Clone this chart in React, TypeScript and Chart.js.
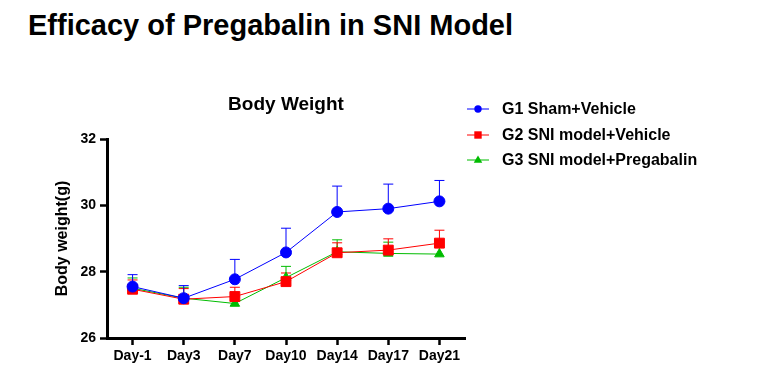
import React, { useEffect, useRef } from "react";
import { Chart, registerables } from "chart.js";

Chart.register(...registerables);

const FONT = 'Arial, "Liberation Sans", Helvetica, sans-serif';

const mainTitle = "Efficacy of Pregabalin in SNI Model";
const chartTitle = "Body Weight";
const yAxisTitle = "Body weight(g)";

const days = ["Day-1", "Day3", "Day7", "Day10", "Day14", "Day17", "Day21"];
const yTicks = [26, 28, 30, 32];

const seriesNames = ["G1 Sham+Vehicle", "G2 SNI model+Vehicle", "G3 SNI model+Pregabalin"];

const g1Mean = [27.55, 27.2, 27.77, 28.58, 29.8, 29.9, 30.12];
const g1Sem = [0.36, 0.38, 0.6, 0.73, 0.78, 0.74, 0.63];

const g2Mean = [27.47, 27.17, 27.25, 27.7, 28.57, 28.65, 28.86];
const g2Sem = [0.28, 0.32, 0.28, 0.26, 0.3, 0.34, 0.39];

const g3Mean = [27.5, 27.2, 27.04, 27.82, 28.6, 28.55, 28.53];
const g3Sem = [0.31, 0.33, 0.2, 0.34, 0.36, 0.34, 0.2];

const BLUE = "#0000FF";
const RED = "#FF0000";
const GREEN = "#00BC00";

const errorBarPlugin = {
  id: "errorBars",
  beforeDatasetsDraw(chart: any) {
    const ctx = chart.ctx;
    const yScale = chart.scales.y;
    const n = chart.data.datasets.length;
    for (let i = n - 1; i >= 0; i--) {
      const ds = chart.data.datasets[i];
      const meta = chart.getDatasetMeta(i);
      const errs: number[] = ds.errors;
      ctx.save();
      ctx.strokeStyle = ds.borderColor;
      ctx.lineWidth = 1;
      meta.data.forEach((pt: any, j: number) => {
        const x = pt.x;
        const y0 = pt.y;
        const y1 = yScale.getPixelForValue(ds.data[j] + errs[j]);
        ctx.beginPath();
        ctx.moveTo(x, y0);
        ctx.lineTo(x, y1);
        ctx.moveTo(x - 5, y1);
        ctx.lineTo(x + 5, y1);
        ctx.stroke();
      });
      ctx.restore();
    }
  },
};

function drawMarker(ctx: CanvasRenderingContext2D, style: string, x: number, y: number, r: number) {
  ctx.beginPath();
  if (style === "circle") {
    ctx.arc(x, y, r, 0, Math.PI * 2);
  } else if (style === "rect") {
    ctx.rect(x - r, y - r, 2 * r, 2 * r);
  } else {
    ctx.moveTo(x, y - r);
    ctx.lineTo(x + r * 0.95, y + r * 0.6);
    ctx.lineTo(x - r * 0.95, y + r * 0.6);
    ctx.closePath();
  }
  ctx.fill();
}

const decorPlugin = {
  id: "decor",
  afterDraw(chart: any) {
    const ctx = chart.ctx;
    const area = chart.chartArea;
    ctx.save();
    ctx.fillStyle = "#000";
    ctx.font = `bold 19px ${FONT}`;
    ctx.textAlign = "center";
    ctx.textBaseline = "middle";
    ctx.fillText(chartTitle, (area.left + area.right) / 2, 105);

    const rows = [109, 135, 160];
    chart.data.datasets.forEach((ds: any, i: number) => {
      const y = rows[i];
      ctx.strokeStyle = ds.borderColor;
      ctx.fillStyle = ds.borderColor;
      ctx.lineWidth = 1;
      ctx.beginPath();
      ctx.moveTo(467, y);
      ctx.lineTo(489, y);
      ctx.stroke();
      drawMarker(ctx, ds.pointStyle, 478, y, ds.pointStyle === "triangle" ? 4.5 : 3.7);
      ctx.fillStyle = "#000";
      ctx.font = `bold 16px ${FONT}`;
      ctx.textAlign = "left";
      ctx.textBaseline = "middle";
      ctx.fillText(ds.label, 502, y + 1);
    });
    ctx.restore();
  },
};

export default function App() {
  const canvasRef = useRef<HTMLCanvasElement | null>(null);

  useEffect(() => {
    if (!canvasRef.current) return;
    const chart = new Chart(canvasRef.current, {
      type: "line",
      data: {
        labels: days,
        datasets: [
          {
            label: seriesNames[0],
            data: g1Mean,
            errors: g1Sem,
            borderColor: BLUE,
            backgroundColor: BLUE,
            pointBackgroundColor: BLUE,
            pointBorderColor: BLUE,
            pointStyle: "circle",
            pointRadius: 5.5,
            borderWidth: 1,
          } as any,
          {
            label: seriesNames[1],
            data: g2Mean,
            errors: g2Sem,
            borderColor: RED,
            backgroundColor: RED,
            pointBackgroundColor: RED,
            pointBorderColor: RED,
            pointStyle: "rect",
            pointRadius: 7,
            borderWidth: 1,
          } as any,
          {
            label: seriesNames[2],
            data: g3Mean,
            errors: g3Sem,
            borderColor: GREEN,
            backgroundColor: GREEN,
            pointBackgroundColor: GREEN,
            pointBorderColor: GREEN,
            pointStyle: "triangle",
            pointRadius: 5.5,
            borderWidth: 1,
          } as any,
        ],
      },
      options: {
        animation: false,
        responsive: false,
        devicePixelRatio: 1,
        layout: { padding: { top: 139, right: 303, bottom: 0, left: 49 } },
        plugins: {
          legend: { display: false },
          title: { display: false },
          tooltip: { enabled: false },
        },
        scales: {
          x: {
            offset: true,
            grid: {
              display: true,
              drawOnChartArea: false,
              drawTicks: true,
              tickLength: 7,
              tickWidth: 2.5,
              tickColor: "#000",
              color: "#000",
              offset: false,
            },
            border: { display: true, color: "#000", width: 3 },
            ticks: {
              color: "#000",
              font: { family: FONT, size: 14, weight: "bold" },
              padding: 3,
              maxRotation: 0,
              autoSkip: false,
            },
            afterFit(scale: any) {
              scale.height = 43;
            },
          },
          y: {
            min: 26,
            max: 32,
            afterBuildTicks(scale: any) {
              scale.ticks = yTicks.map((v) => ({ value: v }));
            },
            grid: {
              display: true,
              drawOnChartArea: false,
              drawTicks: true,
              tickLength: 7,
              tickWidth: 2.5,
              tickColor: "#000",
              color: "#000",
            },
            border: { display: true, color: "#000", width: 3 },
            ticks: {
              color: "#000",
              font: { family: FONT, size: 14, weight: "bold" },
              padding: 4,
            },
            title: {
              display: true,
              text: yAxisTitle,
              color: "#000",
              font: { family: FONT, size: 16, weight: "bold" },
              padding: { top: 4, bottom: 4 },
            },
            afterFit(scale: any) {
              scale.width = 58;
            },
          },
        },
      } as any,
      plugins: [errorBarPlugin, decorPlugin],
    });
    return () => chart.destroy();
  }, []);

  return (
    <div
      style={{
        position: "fixed",
        left: 0,
        top: 0,
        width: 768,
        height: 381,
        background: "#fff",
        fontFamily: FONT,
      }}
    >
      <div
        style={{
          position: "absolute",
          left: 28,
          top: 9,
          fontSize: 29,
          fontWeight: "bold",
          lineHeight: "32px",
          color: "#000",
          whiteSpace: "nowrap",
        }}
      >
        {mainTitle}
      </div>
      <canvas
        ref={canvasRef}
        width={768}
        height={381}
        style={{ position: "absolute", left: 0, top: 0, width: 768, height: 381 }}
      />
    </div>
  );
}
